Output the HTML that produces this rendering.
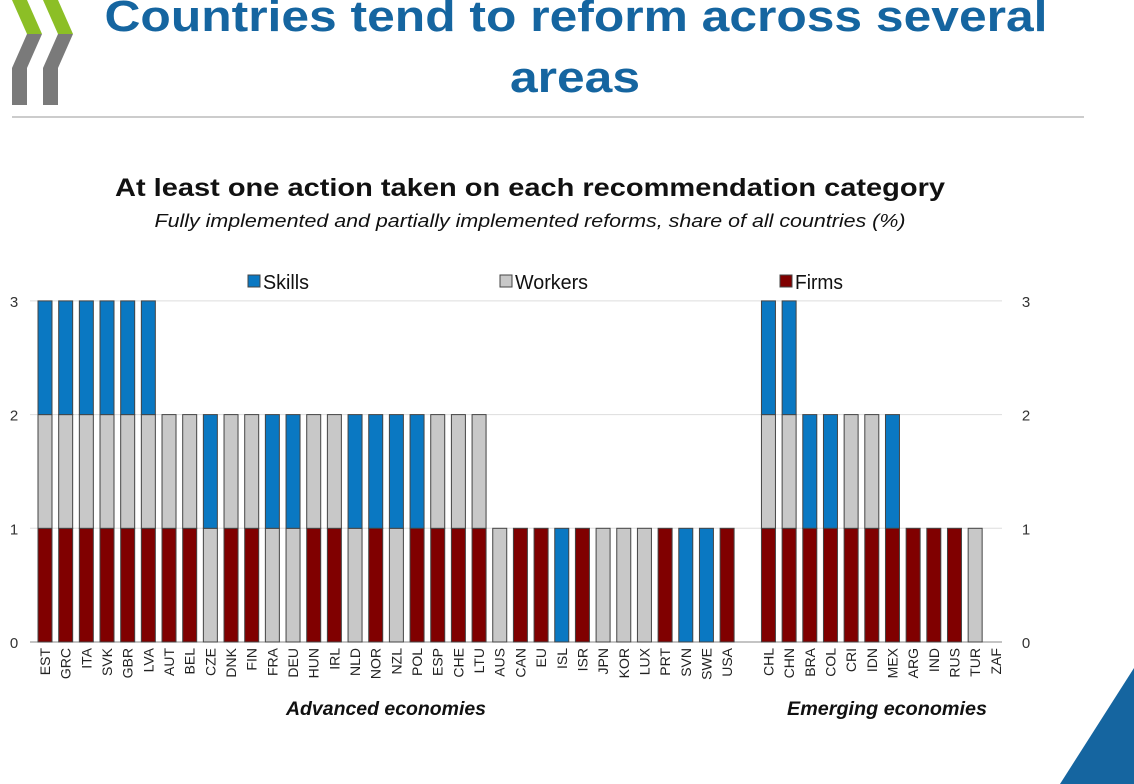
<!DOCTYPE html>
<html><head><meta charset="utf-8">
<style>
body{margin:0;width:1134px;height:784px;background:#fff;overflow:hidden;font-family:"Liberation Sans",sans-serif;position:relative}
</style></head><body>
<svg width="1134" height="784" style="position:absolute;left:0;top:0">
<g>
<polygon points="12,0 27,0 42,34 27,34" fill="#8cbf26"/>
<polygon points="12,68 27,34 42,34 27,68 27,105 12,105" fill="#7a7a7a"/>
<polygon points="43,0 58,0 73,34 58,34" fill="#8cbf26"/>
<polygon points="43,105 43,68 58,34 73,34 58,68 58,105" fill="#7a7a7a"/>
</g>
<text x="576" y="31" font-size="44" font-weight="bold" fill="#1565a0" text-anchor="middle" textLength="943" lengthAdjust="spacingAndGlyphs">Countries tend to reform across several</text>
<text x="575" y="92" font-size="44" font-weight="bold" fill="#1565a0" text-anchor="middle" textLength="130" lengthAdjust="spacingAndGlyphs">areas</text>
<line x1="12" y1="117" x2="1084" y2="117" stroke="#999" stroke-width="1"/>
<polygon points="1060,784 1134,668 1134,784" fill="#1565a0"/>
<text x="530" y="196" font-size="25" font-weight="bold" fill="#111" text-anchor="middle" textLength="830" lengthAdjust="spacingAndGlyphs">At least one action taken on each recommendation category</text>
<text x="530" y="227" font-size="18" font-style="italic" fill="#111" text-anchor="middle" textLength="751" lengthAdjust="spacingAndGlyphs">Fully implemented and partially implemented reforms, share of all countries (%)</text>
<g id="chart"></g>
</svg>
<script>
const countries=["EST","GRC","ITA","SVK","GBR","LVA","AUT","BEL","CZE","DNK","FIN","FRA","DEU","HUN","IRL","NLD","NOR","NZL","POL","ESP","CHE","LTU","AUS","CAN","EU","ISL","ISR","JPN","KOR","LUX","PRT","SVN","SWE","USA","","CHL","CHN","BRA","COL","CRI","IDN","MEX","ARG","IND","RUS","TUR","ZAF"];
const firms  =[1,1,1,1,1,1,1,1,0,1,1,0,0,1,1,0,1,0,1,1,1,1,0,1,1,0,1,0,0,0,1,0,0,1,0,1,1,1,1,1,1,1,1,1,1,0,0];
const workers=[1,1,1,1,1,1,1,1,1,1,1,1,1,1,1,1,0,1,0,1,1,1,1,0,0,0,0,1,1,1,0,0,0,0,0,1,1,0,0,1,1,0,0,0,0,1,0];
const skills =[1,1,1,1,1,1,0,0,1,0,0,1,1,0,0,1,1,1,1,0,0,0,0,0,0,1,0,0,0,0,0,1,1,0,0,1,1,1,1,0,0,1,0,0,0,0,0];
const yTicks=[0,1,2,3];
const NS="http://www.w3.org/2000/svg";
const g=document.getElementById('chart');
const x=i=>45+i*20.67;
const y=v=>642-v*113.7;
function mk(tag,a){const e=document.createElementNS(NS,tag);for(const k in a)e.setAttribute(k,a[k]);g.appendChild(e);return e;}
yTicks.forEach(t=>{
 const l=mk('line',{x1:30,x2:1002,y1:y(t),y2:y(t),stroke:t==0?'#888':'#ddd','stroke-width':1});
 
 
 const a=mk('text',{x:14,y:y(t)+6,'font-size':15,'text-anchor':'middle',fill:'#333'});a.textContent=t;
 
 
 const b=mk('text',{x:1026,y:y(t)+6,'font-size':15,'text-anchor':'middle',fill:'#333'});b.textContent=t;
 
 
});
const cols=['#800000','#c8c8c8','#0a78c2'];
countries.forEach((c,i)=>{
 if(!c)return;
 let base=0;
 [firms[i],workers[i],skills[i]].forEach((v,k)=>{
  if(!v)return;
  const r=mk('rect',{x:x(i)-7,y:y(base+v),width:14,height:y(base)-y(base+v),fill:cols[k],stroke:'#444','stroke-width':1});
  
  
  base+=v;
 });
 const tx=mk('text',{x:0,y:0,'font-size':14,'text-anchor':'end',fill:'#222',transform:`translate(${x(i)+5},648) rotate(-90)`});
 tx.textContent=c;
 
 
});
[['Advanced economies',386],['Emerging economies',887]].forEach(([s,cx])=>{
 const t=mk('text',{x:cx,y:715,'font-size':19,'font-style':'italic','font-weight':'bold','text-anchor':'middle',fill:'#111',textLength:200,lengthAdjust:'spacingAndGlyphs'});
 t.textContent=s;
 
 
});
[['Skills',248,'#0a78c2',46],['Workers',500,'#c8c8c8',73],['Firms',780,'#800000',48]].forEach(([s,lx,c,w])=>{
 const r=mk('rect',{x:lx,y:275,width:12,height:12,fill:c,stroke:'#444'});
 
 
 const t=mk('text',{x:lx+15,y:289,'font-size':20,fill:'#111',textLength:w,lengthAdjust:'spacingAndGlyphs'});t.textContent=s;
 
 
});
</script>
</body></html>
